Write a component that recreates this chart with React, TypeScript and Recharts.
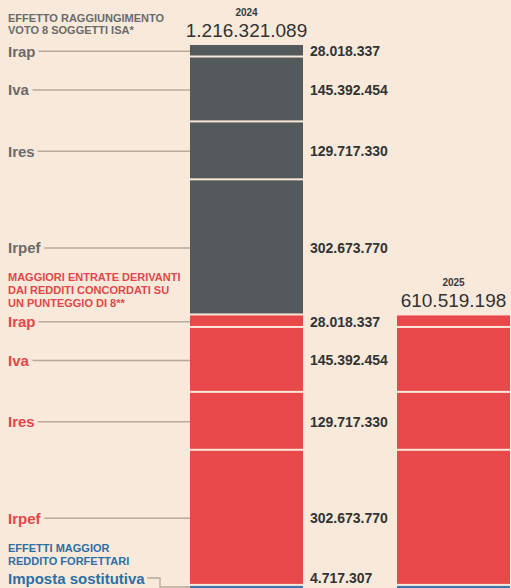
import { BarChart, Bar, XAxis, YAxis, LabelList } from 'recharts';

const years = ['2024', '2025'];
const taxNames = ['Irap', 'Iva', 'Ires', 'Irpef'];
// effetto raggiungimento voto 8 soggetti ISA (per year, in tax order above)
const isaValues = [
  [28018337, 145392454, 129717330, 302673770],
  [0, 0, 0, 0],
];
// maggiori entrate redditi concordati
const concordatoValues = [
  [28018337, 145392454, 129717330, 302673770],
  [28018337, 145392454, 129717330, 302673770],
];
// effetti maggior reddito forfettari
const forfettariValues = [4717307, 4717307];
const forfettariName = 'Imposta sostitutiva';

const groupTitles = {
  isa: ['EFFETTO RAGGIUNGIMENTO', 'VOTO 8 SOGGETTI ISA*'],
  conc: ['MAGGIORI ENTRATE DERIVANTI', 'DAI REDDITI CONCORDATI  SU', 'UN PUNTEGGIO DI 8**'],
  forf: ['EFFETTI MAGGIOR', 'REDDITO FORFETTARI'],
};
// distance from first label to baseline of the last title line
const titleOffset: Record<string, number> = { isa: 17, conc: 15, forf: 13 };

const BG = '#f8e9da';
const GRAY = '#54595b';
const RED = '#e8484a';
const BLUE = '#3a78ab';
const GRAY_TXT = '#6b6b6b';
const RED_TXT = '#e2474b';
const BLUE_TXT = '#2e6ea6';
const LINE = '#b9a999';
const FONT = '"Liberation Sans", Arial, sans-serif';

const fmt = (n: number) => String(n).replace(/\B(?=(\d{3})+(?!\d))/g, '.');

const data = years.map((year, i) => {
  const row: Record<string, any> = { year, forf: forfettariValues[i] };
  taxNames.forEach((t, j) => {
    row['isa_' + t] = isaValues[i][j];
    row['conc_' + t] = concordatoValues[i][j];
  });
  row.total =
    forfettariValues[i] +
    isaValues[i].reduce((a, b) => a + b, 0) +
    concordatoValues[i].reduce((a, b) => a + b, 0);
  return row;
});

// bottom to top
const stackOrder = [
  { key: 'forf', name: forfettariName, group: 'forf', fill: BLUE, txt: BLUE_TXT },
  ...[...taxNames].reverse().map((t) => ({ key: 'conc_' + t, name: t, group: 'conc', fill: RED, txt: RED_TXT })),
  ...[...taxNames].reverse().map((t) => ({ key: 'isa_' + t, name: t, group: 'isa', fill: GRAY, txt: GRAY_TXT })),
];

const topKeyFor = (i: number) => {
  for (let k = stackOrder.length - 1; k >= 0; k--) {
    if (data[i][stackOrder[k].key] > 0) return stackOrder[k].key;
  }
  return '';
};

const makeShape = (gap: number) => (props: any) => {
  const { x, y, width, height, fill } = props;
  if (!height || height <= 0) return <g />;
  return <rect x={x} y={y} width={width} height={Math.max(height - gap, 1)} fill={fill} />;
};

const makeLabel = (s: (typeof stackOrder)[number]) => (props: any) => {
  const vb = props.viewBox ?? props;
  const x = Number(vb.x ?? props.x);
  const y = Number(vb.y ?? props.y);
  const width = Number(vb.width ?? props.width);
  const height = Number(vb.height ?? props.height);
  const index = props.index ?? (x < 300 ? 0 : 1);
  const els: any[] = [];
  const isTop = topKeyFor(index) === s.key;

  if (isTop) {
    const cx = x + width / 2;
    els.push(
      <text key="yr" x={cx} y={y - 29} textAnchor="middle" fontSize={10} fontWeight="bold" fill="#3a3a3a" fontFamily={FONT}>
        {years[index]}
      </text>,
      <text key="tot" x={cx} y={y - 8} textAnchor="middle" fontSize={19} fill="#333" fontFamily={FONT}>
        {fmt(data[index].total)}
      </text>
    );
  }

  if (index === 0 && data[0][s.key] > 0) {
    const isForf = s.group === 'forf';
    const cy = isForf ? y + height - 10 : y + height / 2;
    if (isForf) {
      els.push(
        <path key="ln" d={`M 8 ${cy} H 160 V ${y + height - 1} H ${x}`} stroke={LINE} strokeWidth={1.3} fill="none" />
      );
    } else {
      els.push(<line key="ln" x1={8} x2={x} y1={cy} y2={cy} stroke={LINE} strokeWidth={1.5} />);
    }
    els.push(
      <text
        key="nm"
        x={8}
        y={cy}
        dominantBaseline="central"
        fontSize={15}
        fontWeight="bold"
        fill={s.txt}
        stroke={BG}
        strokeWidth={7}
        paintOrder="stroke"
        fontFamily={FONT}
      >
        {s.name}
      </text>,
      <text key="val" x={x + width + 7} y={cy} dominantBaseline="central" fontSize={14} fontWeight="bold" fill="#333" fontFamily={FONT}>
        {fmt(data[0][s.key])}
      </text>
    );
    // group title above the first label of each group
    const first = s.group === 'forf' ? 'forf' : s.group + '_Irap';
    if (s.key === first) {
      const lines = groupTitles[s.group as keyof typeof groupTitles];
      lines.forEach((l, k) => {
        els.push(
          <text
            key={'t' + k}
            x={8}
            y={cy - titleOffset[s.group] - (lines.length - 1 - k) * 12.7}
            fontSize={11}
            fontWeight="bold"
            fill={s.txt}
            fontFamily={FONT}
          >
            {l}
          </text>
        );
      });
    }
  }
  return <g>{els}</g>;
};

export default function App() {
  return (
    <div style={{ position: 'absolute', left: 0, top: 0, width: 511, height: 588, overflow: 'hidden', background: BG }}>
      <BarChart width={557} height={588} data={data} margin={{ top: 45, right: 0, bottom: 0, left: 143 }}>
        <XAxis dataKey="year" hide />
        <YAxis hide domain={[0, 'dataMax']} />
        {stackOrder.map((s) => (
          <Bar
            key={s.key}
            dataKey={s.key}
            stackId="a"
            fill={s.fill}
            barSize={113}
            isAnimationActive={false}
            shape={makeShape(s.key === 'forf' ? 0 : 2)}
          >
            <LabelList dataKey={s.key} content={makeLabel(s)} />
          </Bar>
        ))}
      </BarChart>
    </div>
  );
}
